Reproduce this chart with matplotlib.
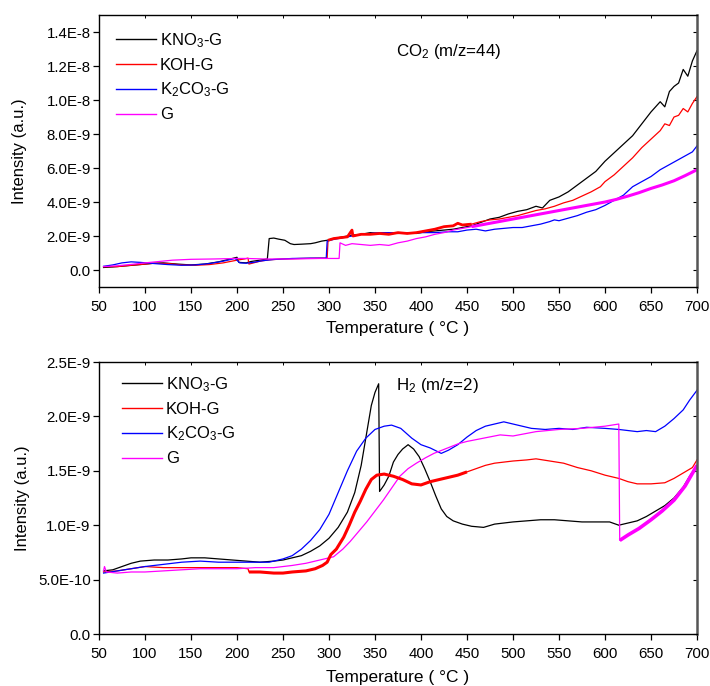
import numpy as np
import matplotlib
matplotlib.use("Agg")
import matplotlib.pyplot as plt
from matplotlib.ticker import FixedLocator, FuncFormatter

plt.rcParams['font.family'] = ['Liberation Sans', 'DejaVu Sans']
plt.rcParams['mathtext.default'] = 'regular'

# ---- CO2 (m/z=44) signals, intensity in units of 1E-9 ----
co2_kno3_t = [55, 65, 80, 95, 110, 120, 135, 150, 165, 180, 195, 200, 202, 210, 215, 225, 233,
              235, 240, 245, 252, 258, 262, 270, 280, 285, 292, 298, 305, 315, 325, 335, 345,
              355, 365, 375, 385, 395, 405, 415, 425, 435, 445, 455, 465, 475, 485, 495, 505,
              515, 525, 532, 540, 550, 560, 570, 580, 590, 600, 610, 620, 630, 640, 650, 660,
              665, 670, 675, 680, 685, 690, 695, 700]
co2_kno3_v = [0.15, 0.18, 0.25, 0.32, 0.40, 0.42, 0.35, 0.30, 0.35, 0.48, 0.68, 0.75, 0.45, 0.42,
              0.50, 0.58, 0.65, 1.85, 1.88, 1.82, 1.75, 1.55, 1.50, 1.52, 1.55, 1.60, 1.70, 1.75,
              1.85, 1.95, 2.05, 2.10, 2.20, 2.15, 2.20, 2.15, 2.20, 2.15, 2.25, 2.30, 2.35, 2.40,
              2.50, 2.60, 2.80, 3.00, 3.10, 3.30, 3.45, 3.55, 3.75, 3.65, 4.10, 4.30, 4.60, 5.00,
              5.40, 5.80, 6.40, 6.90, 7.40, 7.90, 8.60, 9.30, 9.90, 9.60, 10.5, 10.8, 11.0, 11.8,
              11.4, 12.3, 12.9]

co2_koh_t = [55, 70, 85, 100, 110, 125, 140, 155, 170, 185, 200, 208, 212, 213, 218, 225, 235,
             250, 270, 290, 298, 299, 305, 312, 320, 325, 326, 335, 345, 355, 365, 375, 385,
             395, 405, 415, 425, 435, 440, 445, 455, 465, 475, 485, 495, 505, 515, 525, 535,
             545, 555, 565, 575, 585, 595, 600, 610, 620, 630, 640, 650, 660, 665, 670, 675,
             680, 685, 690, 695, 700]
co2_koh_v = [0.20, 0.20, 0.28, 0.35, 0.40, 0.38, 0.30, 0.28, 0.32, 0.42, 0.58, 0.65, 0.70, 0.35,
             0.42, 0.52, 0.60, 0.65, 0.68, 0.70, 0.70, 1.75, 1.85, 1.90, 1.95, 2.35, 2.00, 2.10,
             2.10, 2.15, 2.10, 2.20, 2.15, 2.20, 2.30, 2.40, 2.55, 2.60, 2.75, 2.65, 2.70, 2.85,
             2.95, 3.00, 3.10, 3.20, 3.35, 3.50, 3.60, 3.75, 3.95, 4.10, 4.35, 4.60, 4.90, 5.20,
             5.60, 6.10, 6.60, 7.20, 7.70, 8.20, 8.60, 8.50, 9.00, 9.10, 9.50, 9.30, 9.80, 10.2]

co2_k2co3_t = [55, 65, 75, 85, 95, 110, 125, 140, 155, 170, 185, 198, 203, 210, 218, 228, 240,
               260, 280, 297, 298, 305, 315, 325, 335, 345, 355, 370, 385, 400, 415, 430, 440,
               450, 460, 470, 480, 490, 500, 510, 520, 530, 540, 545, 550, 560, 570, 580, 590,
               600, 610, 620, 630, 640, 650, 660, 670, 680, 690, 695, 700]
co2_k2co3_v = [0.22, 0.30, 0.42, 0.48, 0.45, 0.38, 0.32, 0.28, 0.30, 0.38, 0.52, 0.68, 0.42,
               0.40, 0.45, 0.55, 0.62, 0.68, 0.70, 0.70, 1.70, 1.80, 1.90, 2.00, 2.10, 2.15,
               2.20, 2.20, 2.20, 2.20, 2.20, 2.25, 2.25, 2.35, 2.40, 2.30, 2.40, 2.45, 2.50,
               2.50, 2.60, 2.70, 2.85, 2.95, 2.90, 3.05, 3.20, 3.40, 3.55, 3.80, 4.10, 4.40,
               4.90, 5.20, 5.50, 5.90, 6.20, 6.50, 6.80, 6.95, 7.30]

co2_g_t = [55, 70, 85, 100, 115, 130, 150, 175, 200, 210, 230, 260, 290, 311, 312, 318, 325,
           335, 345, 355, 365, 375, 385, 395, 405, 415, 425, 435, 445, 455, 465, 475, 485, 495,
           505, 515, 525, 535, 545, 555, 565, 575, 585, 600, 612, 625, 637, 650, 662, 675, 687,
           700]
co2_g_v = [0.20, 0.25, 0.33, 0.42, 0.50, 0.58, 0.63, 0.65, 0.68, 0.68, 0.65, 0.65, 0.68, 0.68,
           1.60, 1.45, 1.55, 1.50, 1.45, 1.50, 1.45, 1.60, 1.70, 1.85, 1.95, 2.10, 2.20, 2.35,
           2.45, 2.55, 2.65, 2.75, 2.85, 2.95, 3.05, 3.15, 3.25, 3.35, 3.45, 3.55, 3.65, 3.75,
           3.85, 4.00, 4.15, 4.35, 4.55, 4.80, 5.00, 5.25, 5.55, 5.90]

# ---- H2 (m/z=2) signals, intensity in units of 1E-9 ----
h2_kno3_t = [55, 65, 75, 85, 95, 110, 125, 140, 150, 165, 180, 195, 210, 225, 240, 250, 260,
             270, 280, 290, 300, 310, 320, 328, 335, 341, 346, 350, 354, 355, 360, 365, 370,
             375, 380, 386, 392, 398, 404, 410, 416, 422, 428, 435, 445, 455, 468, 480, 490,
             500, 515, 530, 545, 560, 575, 590, 605, 615, 625, 635, 645, 655, 665, 675, 685,
             692, 700]
h2_kno3_v = [0.58, 0.59, 0.62, 0.65, 0.67, 0.68, 0.68, 0.69, 0.70, 0.70, 0.69, 0.68, 0.67, 0.66,
             0.67, 0.68, 0.70, 0.72, 0.76, 0.81, 0.88, 0.98, 1.12, 1.30, 1.55, 1.85, 2.10, 2.22,
             2.30, 1.31, 1.37, 1.45, 1.58, 1.65, 1.70, 1.74, 1.70, 1.63, 1.52, 1.40, 1.27, 1.15,
             1.08, 1.04, 1.01, 0.99, 0.98, 1.01, 1.02, 1.03, 1.04, 1.05, 1.05, 1.04, 1.03, 1.03,
             1.03, 1.00, 1.02, 1.04, 1.08, 1.13, 1.18, 1.25, 1.35, 1.45, 1.55]

h2_koh_t = [55, 70, 85, 100, 120, 140, 160, 180, 200, 212, 213, 225, 240, 250, 260, 275, 285,
            293, 298, 302, 308, 316, 322, 328, 334, 340, 346, 352, 360, 370, 380, 390, 400, 410,
            420, 430, 440, 450, 460, 470, 480, 490, 500, 515, 525, 540, 555, 570, 585, 600, 615,
            625, 635, 650, 665, 675, 685, 695, 700]
h2_koh_v = [0.57, 0.58, 0.60, 0.62, 0.61, 0.61, 0.61, 0.61, 0.61, 0.60, 0.57, 0.57, 0.56, 0.56,
            0.57, 0.58, 0.60, 0.63, 0.66, 0.73, 0.78, 0.89, 1.00, 1.12, 1.22, 1.33, 1.42, 1.46,
            1.47, 1.45, 1.42, 1.38, 1.37, 1.40, 1.42, 1.44, 1.46, 1.49, 1.52, 1.55, 1.57, 1.58,
            1.59, 1.60, 1.61, 1.59, 1.57, 1.53, 1.50, 1.46, 1.43, 1.40, 1.38, 1.38, 1.39, 1.43,
            1.48, 1.53, 1.60]

h2_k2co3_t = [55, 70, 85, 100, 120, 140, 160, 180, 200, 220, 235, 250, 260, 270, 280, 290, 300,
              310, 320, 330, 340, 350, 360, 368, 378, 390, 400, 410, 422, 430, 440, 450, 460,
              470, 480, 490, 500, 510, 520, 535, 550, 565, 580, 600, 615, 625, 635, 645, 655,
              665, 675, 685, 692, 700]
h2_k2co3_v = [0.56, 0.58, 0.60, 0.62, 0.64, 0.66, 0.67, 0.66, 0.66, 0.66, 0.66, 0.69, 0.72,
              0.78, 0.86, 0.96, 1.10, 1.30, 1.50, 1.68, 1.80, 1.88, 1.91, 1.92, 1.89, 1.80,
              1.74, 1.71, 1.66, 1.69, 1.74, 1.81, 1.87, 1.91, 1.93, 1.95, 1.93, 1.91, 1.89,
              1.88, 1.89, 1.88, 1.90, 1.89, 1.88, 1.87, 1.86, 1.87, 1.86, 1.91, 1.98, 2.06,
              2.15, 2.24]

h2_g_t = [55, 56, 58, 70, 85, 100, 120, 140, 160, 180, 200, 220, 240, 260, 275, 290, 305, 315,
          323, 332, 341, 350, 359, 368, 377, 386, 395, 405, 414, 423, 432, 441, 450, 468, 486,
          500, 525, 550, 575, 600, 615, 616, 625, 637, 650, 662, 675, 687, 700]
h2_g_v = [0.58, 0.62, 0.57, 0.56, 0.57, 0.57, 0.58, 0.59, 0.60, 0.60, 0.60, 0.61, 0.61, 0.63,
          0.65, 0.68, 0.71, 0.78, 0.85, 0.94, 1.03, 1.13, 1.23, 1.34, 1.45, 1.52, 1.57, 1.62,
          1.66, 1.69, 1.72, 1.75, 1.77, 1.80, 1.83, 1.82, 1.86, 1.88, 1.89, 1.91, 1.93, 0.86,
          0.91, 0.97, 1.05, 1.13, 1.23, 1.36, 1.55]

labels = [r'KNO$_3$-G', 'KOH-G', r'K$_2$CO$_3$-G', 'G']
colors = ['black', '#ff0000', '#0000ff', '#ff00ff']

x_ticks = list(range(50, 701, 50))
co2_yticks = [0, 2e-9, 4e-9, 6e-9, 8e-9, 1e-8, 1.2e-8, 1.4e-8]
h2_yticks = [0, 5e-10, 1e-9, 1.5e-9, 2e-9, 2.5e-9]


def origin_fmt(v, pos):
    if abs(v) < 1e-20:
        return '0.0'
    exp = int(np.floor(np.log10(abs(v)) + 1e-9))
    mant = v / 10.0 ** exp
    return f'{mant:.1f}E{exp}'


def style_axes(ax, yticks, ylim, xlabelpad, ylabel_x):
    ax.set_xlim(50, 700)
    ax.set_ylim(*ylim)
    ax.xaxis.set_major_locator(FixedLocator(x_ticks))
    ax.yaxis.set_major_locator(FixedLocator(yticks))
    ax.yaxis.set_major_formatter(FuncFormatter(origin_fmt))
    ax.tick_params(axis='both', which='major', direction='out', length=4, width=0.9,
                   labelsize=10.8, top=False, right=False)
    ax.tick_params(axis='x', pad=5.5)
    ax.tick_params(axis='y', pad=2)
    # small inward ticks on the opposite sides
    sec_x = ax.secondary_xaxis('top')
    sec_x.xaxis.set_major_locator(FixedLocator(x_ticks))
    sec_x.tick_params(direction='in', length=2, width=0.7, labeltop=False)
    sec_x.spines['top'].set_visible(False)
    sec_y = ax.secondary_yaxis('right')
    sec_y.yaxis.set_major_locator(FixedLocator(yticks))
    sec_y.tick_params(direction='in', length=3, width=0.8, labelright=False)
    sec_y.spines['right'].set_visible(False)
    for side in ('left', 'bottom', 'top'):
        ax.spines[side].set_linewidth(1.0)
        ax.spines[side].set_color('black')
    ax.spines['right'].set_linewidth(1.8)
    ax.spines['right'].set_color('#555555')
    ax.set_xlabel('Temperature ( °C )', fontsize=12.5, labelpad=xlabelpad)
    ax.set_ylabel('Intensity (a.u.)', fontsize=12)
    ax.yaxis.set_label_coords(ylabel_x, 0.5)


fig = plt.figure(figsize=(7.10, 6.86), dpi=100)
ax1 = fig.add_axes([0.1394, 0.5816, 0.8423, 0.3965])
ax2 = fig.add_axes([0.1394, 0.0758, 0.8423, 0.3965])

co2_series = [(co2_kno3_t, co2_kno3_v), (co2_koh_t, co2_koh_v),
              (co2_k2co3_t, co2_k2co3_v), (co2_g_t, co2_g_v)]
h2_series = [(h2_kno3_t, h2_kno3_v), (h2_koh_t, h2_koh_v),
             (h2_k2co3_t, h2_k2co3_v), (h2_g_t, h2_g_v)]

for (t, v), lab, col in zip(co2_series, labels, colors):
    ax1.plot(t, np.array(v) * 1e-9, color=col, lw=0.9, label=lab)
for (t, v), lab, col in zip(h2_series, labels, colors):
    ax2.plot(t, np.array(v) * 1e-9, color=col, lw=0.9, label=lab)


# thicker traces where the signal is densely noisy
def thick(ax, t, v, lo, hi, col, lw):
    t = np.array(t)
    v = np.array(v)
    m = (t >= lo) & (t <= hi)
    ax.plot(t[m], v[m] * 1e-9, color=col, lw=lw, solid_capstyle='butt')


thick(ax1, co2_koh_t, co2_koh_v, 299, 460, colors[1], 2.0)
thick(ax1, co2_g_t, co2_g_v, 455, 700, colors[3], 2.2)
thick(ax2, h2_koh_t, h2_koh_v, 213, 450, colors[1], 2.2)
thick(ax2, h2_g_t, h2_g_v, 616, 700, colors[3], 2.6)

style_axes(ax1, co2_yticks, (-1e-9, 1.5e-8), 5, -0.120)
style_axes(ax2, h2_yticks, (0, 2.5e-9), 6.5, -0.115)

for ax, (lx, ly) in ((ax1, (0.028, 0.941)), (ax2, (0.038, 0.952))):
    handles = [plt.Line2D([], [], color=c, lw=1.0) for c in colors]
    ax.legend(handles, labels, loc='upper left', bbox_to_anchor=(lx, ly),
              frameon=False, fontsize=12, handlelength=2.4, handletextpad=0.25,
              labelspacing=0.48, borderpad=0, borderaxespad=0)

ax1.text(0.497, 0.865, r'CO$_2$ (m/z=44)', transform=ax1.transAxes, fontsize=12.2,
         ha='left', va='center')
ax2.text(0.497, 0.915, r'H$_2$ (m/z=2)', transform=ax2.transAxes, fontsize=12.2,
         ha='left', va='center')

fig.savefig('out.png', dpi=100)
